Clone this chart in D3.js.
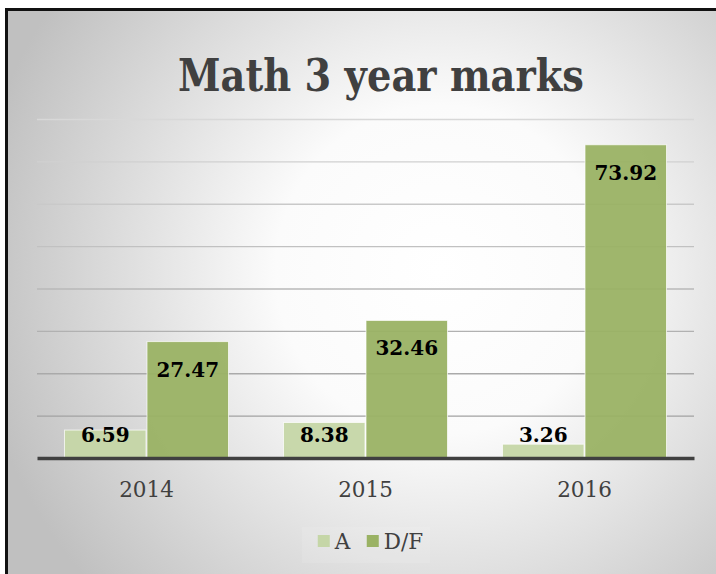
<!DOCTYPE html>
<html>
<head>
<meta charset="utf-8">
<script src="https://cdn.jsdelivr.net/npm/d3@7"></script>
<style>
  body { margin: 0; background: #fff; }
  svg { display: block; }
</style>
</head>
<body>
<div id="chartDiv"></div>
<script>
const years = ["2014", "2015", "2016"];
const seriesNames = ["A", "D/F"];
const aValues = [6.59, 8.38, 3.26];
const dfValues = [27.47, 32.46, 73.92];
const gridTicks = [10, 20, 30, 40, 50, 60, 70, 80];

const w = 716;
const h = 574;
const colors = { "A": "#c5d6a7", "D/F": "#9ab264" };

const svg = d3.select("#chartDiv")
  .append("svg")
  .attr("width", w)
  .attr("height", h);

// background gradient like the office chart style
const defs = svg.append("defs");
const grad = defs.append("radialGradient")
  .attr("id", "bg")
  .attr("gradientUnits", "userSpaceOnUse")
  .attr("cx", 440).attr("cy", 270).attr("r", 470);
grad.append("stop").attr("offset", "0%").attr("stop-color", "#ffffff");
grad.append("stop").attr("offset", "35%").attr("stop-color", "#fbfbfb");
grad.append("stop").attr("offset", "100%").attr("stop-color", "#c0c0c0");

svg.append("rect")
  .attr("x", 6.5).attr("y", 9.5)
  .attr("width", w + 20).attr("height", h + 20)
  .attr("fill", "url(#bg)")
  .attr("stroke", "#111")
  .attr("stroke-width", 3);

const x0 = d3.scaleBand().domain(years).range([37, 694]).paddingInner(0.2466).paddingOuter(0.1233);
const x1 = d3.scaleBand().domain(seriesNames).range([0, x0.bandwidth()]);
const y = d3.scaleLinear().domain([0, 80]).range([458, 119]);

const gridColor = d3.scaleLinear().domain([80, 10]).range(["#d8d8d8", "#a2a2a2"]);

svg.append("g")
  .selectAll("line")
  .data(gridTicks)
  .enter()
  .append("line")
  .attr("x1", 37).attr("x2", 694)
  .attr("y1", d => y(d) + 0.5).attr("y2", d => y(d) + 0.5)
  .attr("stroke", d => gridColor(d))
  .attr("stroke-width", 1.3);

// title
svg.append("text")
  .attr("x", 381).attr("y", 91)
  .attr("text-anchor", "middle")
  .attr("font-family", "DejaVu Serif")
  .attr("font-weight", "bold")
  .attr("font-size", 45)
  .attr("textLength", 406)
  .attr("lengthAdjust", "spacingAndGlyphs")
  .attr("fill", "#404040")
  .text("Math 3 year marks");

const rows = years.map((yr, i) => ({
  year: yr,
  vals: [{ key: "A", v: aValues[i] }, { key: "D/F", v: dfValues[i] }]
}));

const groups = svg.append("g")
  .selectAll("g")
  .data(rows)
  .enter()
  .append("g")
  .attr("transform", d => `translate(${x0(d.year)},0)`);

groups.selectAll("rect")
  .data(d => d.vals)
  .enter()
  .append("rect")
  .attr("x", d => x1(d.key) + 0.5)
  .attr("width", x1.bandwidth() - 1)
  .attr("y", d => y(d.v))
  .attr("height", d => y(0) - y(d.v))
  .attr("fill", d => colors[d.key])
  .attr("fill-opacity", 0.95)
  .attr("stroke", "rgba(255,255,255,0.7)")
  .attr("stroke-width", 1);

groups.selectAll("text")
  .data(d => d.vals)
  .enter()
  .append("text")
  .attr("x", d => x1(d.key) + x1.bandwidth() / 2)
  .attr("y", d => Math.min(y(d.v) + 35, 442))
  .attr("text-anchor", "middle")
  .attr("font-family", "DejaVu Serif")
  .attr("font-weight", "bold")
  .attr("font-size", 20)
  .attr("fill", "#000")
  .text(d => d.v.toFixed(2));

// category axis, the domain line doubles as the thick baseline
const xAxis = d3.axisBottom(x0).tickSize(0).tickSizeOuter(0).tickPadding(24);
const ax = svg.append("g")
  .attr("transform", `translate(0, ${y(0)})`)
  .call(xAxis);
ax.select(".domain").attr("stroke", "#404040").attr("stroke-width", 3.5);
ax.selectAll("text")
  .attr("font-family", "DejaVu Serif")
  .attr("font-size", 21.5)
  .attr("fill", "#404040");

// legend
const legend = svg.append("g");
legend.append("rect")
  .attr("x", 302).attr("y", 527).attr("width", 128).attr("height", 36)
  .attr("fill", "#fff").attr("fill-opacity", 0.1);
const items = legend.selectAll("g")
  .data(seriesNames)
  .enter()
  .append("g");
items.append("rect")
  .attr("width", 12).attr("height", 12)
  .attr("y", 535)
  .attr("fill", d => colors[d]);
items.append("text")
  .attr("x", 17).attr("y", 549)
  .attr("font-family", "DejaVu Serif")
  .attr("font-size", 21.5)
  .attr("fill", "#404040")
  .text(d => d);
let widths = [];
items.each(function () { widths.push(this.getBBox().width); });
const total = d3.sum(widths) + 16 * (widths.length - 1);
let cur = 370.5 - total / 2;
items.attr("transform", (d, i) => {
  const t = `translate(${cur},0)`;
  cur += widths[i] + 16;
  return t;
});
</script>
</body>
</html>
